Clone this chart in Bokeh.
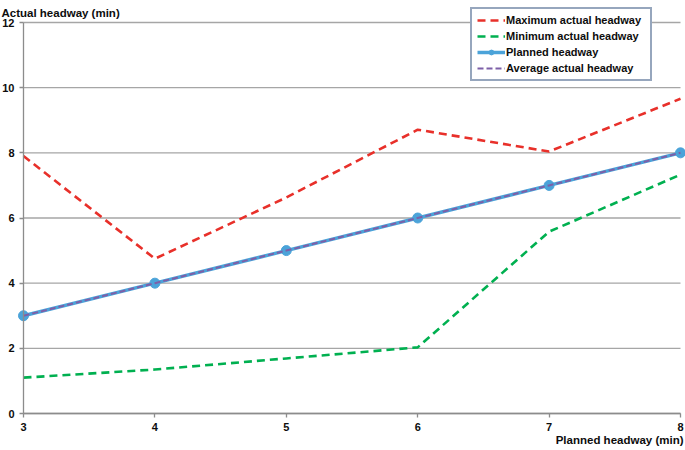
from bokeh.plotting import figure
from bokeh.models import Range1d, FixedTicker, Label, Legend, LegendItem
from bokeh.embed import file_html
from bokeh.resources import INLINE

planned = [3, 4, 5, 6, 7, 8]
max_actual = [7.9, 4.75, 6.63, 8.71, 8.04, 9.66]
min_actual = [1.10, 1.35, 1.69, 2.03, 5.58, 7.33]
planned_hw = [3, 4, 5, 6, 7, 8]
avg_actual = [3.0, 4.0, 5.0, 6.0, 7.0, 8.0]
y_ticks = [0, 2, 4, 6, 8, 10, 12]
x_ticks = [3, 4, 5, 6, 7, 8]

W, H = 685, 450
# pixel layout of the plotting area (left, right, top, bottom) on the canvas
PX_L, PX_R, PX_T, PX_B = 23, 680, 22, 413
kx = (PX_R - PX_L) / (x_ticks[-1] - x_ticks[0])
ky = (PX_B - PX_T) / (y_ticks[-1] - y_ticks[0])
x0 = x_ticks[0] - PX_L / kx
x1 = x_ticks[-1] + (W - PX_R) / kx
y0 = y_ticks[0] - (H - PX_B) / ky
y1 = y_ticks[-1] + PX_T / ky

FONT = "Liberation Sans"
TXT = "#0D0D0D"
RED = "#E8302A"
GREEN = "#00B050"
BLUE = "#4BA3D9"
PURPLE = "#7D5FA8"

p = figure(width=W, height=H, output_backend="svg", toolbar_location=None,
           x_range=Range1d(x0, x1), y_range=Range1d(y0, y1),
           min_border=0)
p.outline_line_color = None
p.background_fill_color = "white"
p.xgrid.grid_line_color = None
p.ygrid.grid_line_color = None

# horizontal gridlines between the axis bounds
p.segment(x0=[x_ticks[0]] * len(y_ticks), x1=[x_ticks[-1]] * len(y_ticks),
          y0=y_ticks, y1=y_ticks, line_color="#A6A6A6", line_width=1.3)

for ax in (p.xaxis[0], p.yaxis[0]):
    ax.axis_line_color = "#8C8C8C"
    ax.axis_line_width = 1.3
    ax.major_tick_line_color = "#8C8C8C"
    ax.major_tick_line_width = 1.3
    ax.major_tick_out = 4
    ax.major_tick_in = 0
    ax.minor_tick_line_color = None
    ax.major_label_text_font = FONT
    ax.major_label_text_font_style = "bold"
    ax.major_label_text_font_size = "11px"
    ax.major_label_text_color = TXT
    ax.major_label_standoff = 5
p.xaxis.ticker = FixedTicker(ticks=x_ticks)
p.yaxis.ticker = FixedTicker(ticks=y_ticks)
p.xaxis.fixed_location = y_ticks[0]
p.yaxis.fixed_location = x_ticks[0]
p.xaxis.bounds = (x_ticks[0], x_ticks[-1])
p.yaxis.bounds = (y_ticks[0], y_ticks[-1])

r_max = p.line(planned, max_actual, line_color=RED, line_width=2.6, line_dash="8 5")
r_min = p.line(planned, min_actual, line_color=GREEN, line_width=2.6, line_dash="8 5")
r_pl = p.line(planned, planned_hw, line_color=BLUE, line_width=3.5)
r_pm = p.scatter(planned, planned_hw, size=10, fill_color=BLUE, line_color=BLUE)
r_avg = p.line(planned, avg_actual, line_color=PURPLE, line_width=2, line_dash="6 3")

legend = Legend(items=[
    LegendItem(label="Maximum actual headway", renderers=[r_max]),
    LegendItem(label="Minimum actual headway", renderers=[r_min]),
    LegendItem(label="Planned headway", renderers=[r_pl, r_pm]),
    LegendItem(label="Average actual headway", renderers=[r_avg]),
], location=(470, H - 81))
legend.border_line_color = "#2E4D7B"
legend.border_line_width = 2
legend.background_fill_color = "white"
legend.background_fill_alpha = 1
legend.label_text_font = FONT
legend.label_text_font_style = "bold"
legend.label_text_font_size = "11px"
legend.label_text_color = TXT
legend.glyph_width = 28
legend.glyph_height = 12
legend.label_height = 12
legend.label_width = 139
legend.label_standoff = 1
legend.spacing = 4
legend.padding = 5
legend.margin = 0
p.add_layout(legend)

ylab = Label(x=x_ticks[0], y=y_ticks[-1], x_offset=-22, y_offset=10, text="Actual headway (min)",
             text_font=FONT, text_font_style="bold", text_font_size="11.5px",
             text_color=TXT, text_align="left", text_baseline="alphabetic")
xlab = Label(x=x_ticks[-1], y=y_ticks[0], x_offset=3, y_offset=-26, text="Planned headway (min)",
             text_font=FONT, text_font_style="bold", text_font_size="11.5px",
             text_color=TXT, text_align="right", text_baseline="alphabetic")
p.add_layout(ylab)
p.add_layout(xlab)

open("out.html", "w").write(file_html(p, INLINE))
